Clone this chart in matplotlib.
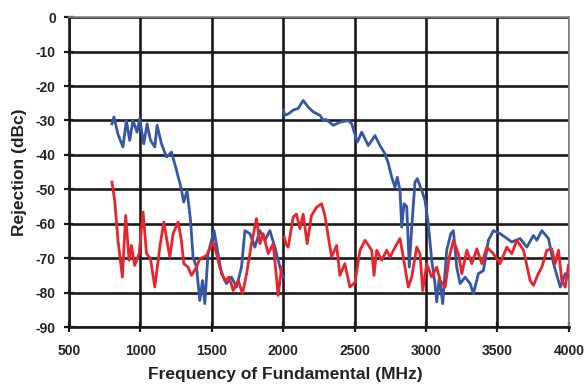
import numpy as np
import matplotlib.pyplot as plt

# blue trace (NaN splits the two measured bands)
blue_freq = [801, 815, 843, 878, 902, 925, 948, 977, 995, 1024, 1047, 1071, 1101, 1117,
             1148, 1183, 1218, 1253, 1281, 1304, 1327, 1351, 1369, 1393, 1416, 1435, 1451,
             1474, 1516, 1544, 1568, 1603, 1638, 1673, 1708, 1732, 1767, 1802, 1837, 1872,
             1907, 1942, 1977, 1998,
             np.nan,
             2002, 2012, 2040, 2070, 2105, 2140, 2175, 2210, 2257, 2281, 2300, 2351, 2398,
             2456, 2480, 2519, 2550, 2596, 2643, 2678, 2713, 2737, 2760, 2783, 2799, 2818,
             2830, 2846, 2865, 2883, 2900, 2923, 2939, 2970, 2993, 3016, 3040, 3063, 3075,
             3094, 3117, 3145, 3174, 3192, 3215, 3239, 3274, 3309, 3332, 3367, 3402, 3437,
             3472, 3519, 3554, 3601, 3659, 3706, 3752, 3776, 3811, 3858, 3893, 3940, 3975,
             4000]
blue_rej = [-31, -29, -34, -37.7, -30, -35.8, -30, -33.4, -29.5, -36.8, -31, -35.8, -37.7, -31.4,
            -36.8, -40.6, -39.2, -44.5, -48.9, -53.7, -50.3, -59, -69.7, -72.6, -82.3, -76.5, -83.2,
            -68.7, -62, -68.7, -74.5, -77.4, -75.5, -78.4, -72.6, -62, -62.9, -66.8, -62, -64.8,
            -62, -66.8, -72.6, -75.5,
            np.nan,
            -27, -28.5, -28, -27, -26.5, -24.2, -26.1, -27.5, -28.5, -30, -29.7, -31.4, -30.5,
            -30, -31, -36.3, -33.4, -37.3, -34.4, -37.3, -39.7, -42.6, -46.5, -49.4, -46.5, -50.3,
            -61, -54.2, -55, -72.6, -61, -47.9, -46.9, -50.3, -53.2, -60, -70.6, -77.4, -82.7,
            -75.5, -83.2, -67.7, -62.9, -62, -72.6, -77.4, -75.5, -77.4, -80.3, -74.5, -73.6, -64.8,
            -62, -62.9, -63.9, -65.3, -64.3, -66.8, -63.4, -64.8, -62, -64.3, -71.6, -78.4, -74.5,
            -75.5]

# red trace
red_freq = [801, 820, 843, 874, 897, 921, 937, 960, 991, 1019, 1043, 1071, 1101, 1136,
            1164, 1206, 1229, 1264, 1287, 1304, 1334, 1358, 1393, 1416, 1463, 1509, 1533,
            1556, 1591, 1621, 1650, 1685, 1715, 1744, 1778, 1813, 1837, 1860, 1895, 1930,
            1965, 1989,
            np.nan,
            2008, 2020, 2035, 2070, 2093, 2117, 2140, 2168, 2198, 2234, 2269, 2292, 2339,
            2374, 2397, 2432, 2467, 2503, 2538, 2573, 2620, 2636, 2655, 2690, 2725, 2749,
            2783, 2818, 2841, 2876, 2900, 2935, 2958, 2977, 3005, 3040, 3075, 3099, 3134,
            3163, 3192, 3227, 3251, 3286, 3321, 3356, 3391, 3426, 3472, 3519, 3566, 3601,
            3636, 3683, 3729, 3753, 3781, 3811, 3846, 3881, 3904, 3928, 3951, 3975, 3998]
red_rej = [-47.9, -53.2, -64.8, -75.5, -57.6, -70.6, -66.3, -72.1, -68.7, -56.6, -68.7, -70.2, -78.4, -66.8,
           -59.5, -69.7, -62.9, -59.5, -64.8, -71.6, -72.6, -75, -72.6, -70.2, -69.3, -65.3, -68.7,
           -72.6, -76.5, -75.5, -79.4, -76.5, -80.3, -74.5, -65.8, -58.5, -65.8, -62.9, -68.7, -65.8,
           -80.8, -72.6,
           np.nan,
           -63.9, -66, -66.8, -58.1, -57.2, -61.4, -57.2, -65.8, -57.6, -55.2, -54.2, -57.6, -69.7,
           -66.3, -75, -71.6, -78.4, -77, -67.7, -64.8, -67.7, -75, -67.7, -70.6, -67.7, -69.7,
           -66.8, -64.3, -69.7, -78.4, -75.5, -66.8, -68.7, -79.4, -71.6, -75.5, -72.6, -76.5, -78.4,
           -69.7, -64.8, -68.7, -74.5, -67.7, -71.6, -67.3, -71.6, -66.8, -68.7, -71.6, -66.8, -68.7,
           -64.8, -67.7, -76.5, -77.9, -75, -72.6, -67.7, -67.3, -71.6, -67.7, -76.5, -78.4, -72.1]

x_ticks = [500, 1000, 1500, 2000, 2500, 3000, 3500, 4000]
y_ticks = [0, -10, -20, -30, -40, -50, -60, -70, -80, -90]

plt.rcParams['font.family'] = ['Liberation Sans', 'DejaVu Sans']
plt.rcParams['axes.unicode_minus'] = False

fig = plt.figure(figsize=(5.87, 3.90), dpi=100)
ax = fig.add_axes([0.1175, 0.1615, 0.8515, 0.7945])

ax.plot(blue_freq, blue_rej, color='#3656a6', linewidth=2.0, zorder=3)
ax.plot(red_freq, red_rej, color='#e8242c', linewidth=2.0, zorder=4)

ax.set_xlim(500, 4000)
ax.set_ylim(-90, 0)
ax.set_xticks(x_ticks)
ax.set_yticks(y_ticks)
ax.grid(True, color='#1a1a1a', linewidth=1.9, zorder=1)
ax.set_axisbelow(True)

for side in ['left', 'bottom']:
    ax.spines[side].set_color('#1a1a1a')
    ax.spines[side].set_linewidth(1.9)
for side in ['top', 'right']:
    ax.spines[side].set_color('#888888')
    ax.spines[side].set_linewidth(1.2)

ax.tick_params(direction='inout', length=7, width=1.6, color='#1a1a1a', labelsize=10)
ax.tick_params(axis='x', pad=9)
ax.tick_params(axis='y', pad=6)
for lab in ax.get_xticklabels() + ax.get_yticklabels():
    lab.set_fontweight('bold')
    lab.set_color('#222222')

ax.set_xlabel('Frequency of Fundamental (MHz)', fontsize=12.5, fontweight='bold',
              color='#222222')
ax.xaxis.set_label_coords(0.433, -0.13)
ax.set_ylabel('Rejection (dBc)', fontsize=12.5, fontweight='bold',
              color='#222222', labelpad=6)

fig.savefig('out.png', dpi=100)
